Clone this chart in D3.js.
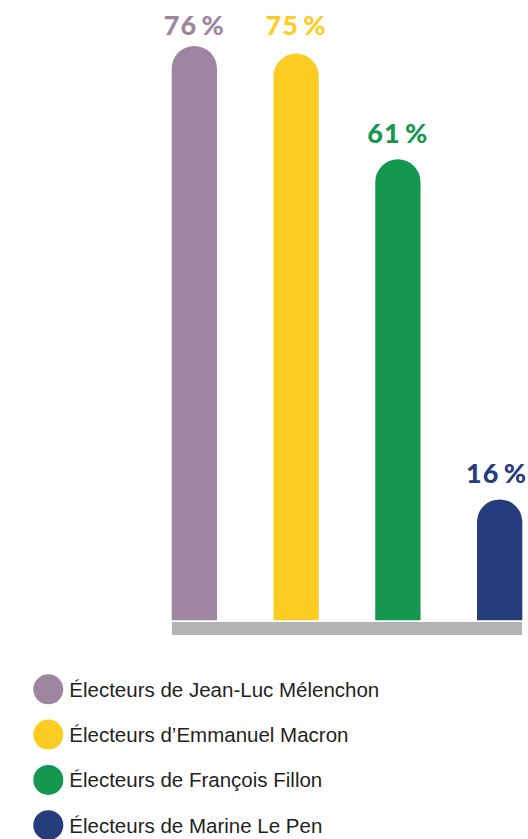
<!DOCTYPE html>
<meta charset="utf-8">
<script src="https://d3js.org/d3.v7.min.js"></script>
<style>
  body { margin: 0; background: #fff; }
</style>
<div id="chart"></div>
<script>

// data
var voters = ["Électeurs de Jean-Luc Mélenchon", "Électeurs d’Emmanuel Macron", "Électeurs de François Fillon", "Électeurs de Marine Le Pen"];
var shares = [76, 75, 61, 16];
var colors = ["#9e86a0", "#fdcc22", "#14984f", "#263c7c"];

var width = 528, height = 839;

var svg = d3.select("#chart").append("svg")
    .attr("width", width)
    .attr("height", height);

// scales
var x = d3.scaleBand()
    .domain(voters)
    .range([172 - 28.5, 522 + 28.5])
    .paddingInner(0.555)
    .paddingOuter(0.277);

var y = d3.scaleLinear()
    .domain([0, 100])
    .range([620.3, -135.4]);

// grey baseline
svg.append("rect")
    .attr("x", 172)
    .attr("y", 622)
    .attr("width", 350)
    .attr("height", 13)
    .attr("fill", "#b2b3b2");

// bars with round tops
function barPath(d, i) {
  var x0 = x(voters[i]), w = x.bandwidth(), r = w / 2;
  var top = y(d), bottom = y(0);
  return "M" + x0 + "," + bottom +
         "V" + (top + r) +
         "A" + r + "," + r + " 0 0 1 " + (x0 + w) + "," + (top + r) +
         "V" + bottom + "Z";
}

svg.append("g").selectAll("path")
    .data(shares)
    .enter().append("path")
    .attr("d", barPath)
    .attr("fill", function(d, i) { return colors[i]; });

// value labels (kept inside the right edge)
svg.append("g").selectAll("text")
    .data(shares)
    .enter().append("text")
    .attr("x", function(d, i) { return Math.min(x(voters[i]) + x.bandwidth() / 2, 496.5); })
    .attr("y", function(d) { var b = y(d) - 16; return b < 40 ? 35 : b; })
    .attr("text-anchor", "middle")
    .attr("fill", function(d, i) { return colors[i]; })
    .style("font-family", "Lato, sans-serif")
    .style("font-weight", 900)
    .style("font-size", "27px")
    .style("letter-spacing", "1px")
    .text(function(d) { return d + "\u2009%"; });

// legend
var legend = svg.append("g").selectAll("g")
    .data(voters)
    .enter().append("g")
    .attr("transform", function(d, i) { return "translate(48.3," + (689.3 + i * 45.3) + ")"; });

legend.append("circle")
    .attr("r", 15)
    .attr("fill", function(d, i) { return colors[i]; });

legend.append("text")
    .attr("x", 21)
    .attr("y", 7.5)
    .attr("fill", "#231f20")
    .style("font-family", "'Liberation Sans', Helvetica, Arial, sans-serif")
    .style("font-size", "20.5px")
    .text(function(d) { return d; });

</script>
